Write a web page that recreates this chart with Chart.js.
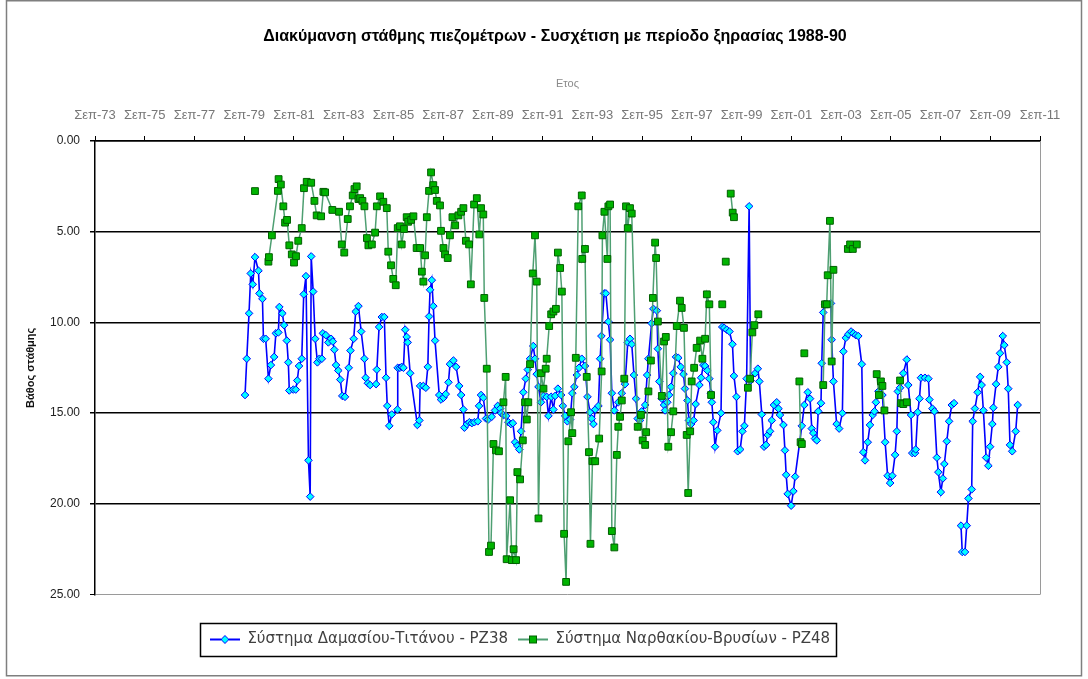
<!DOCTYPE html>
<html><head><meta charset="utf-8">
<script src="https://cdn.jsdelivr.net/npm/chart.js@4/dist/chart.umd.min.js"></script>
<style>html,body{margin:0;padding:0;background:#fff;}canvas{display:block;}</style>
</head><body>
<canvas id="c" width="1088" height="679"></canvas>
<script>
const chartTitle = 'Διακύμανση στάθμης πιεζομέτρων - Συσχέτιση με περίοδο ξηρασίας 1988-90';
const xAxisTitle = 'Ετος';
const yAxisTitle = 'Βάθος στάθμης';
const xTickYears = [1973,1975,1977,1979,1981,1983,1985,1987,1989,1991,1993,1995,1997,1999,2001,2003,2005,2007,2009,2011];
const xTickLabels = ['Σεπ-73','Σεπ-75','Σεπ-77','Σεπ-79','Σεπ-81','Σεπ-83','Σεπ-85','Σεπ-87','Σεπ-89','Σεπ-91','Σεπ-93','Σεπ-95','Σεπ-97','Σεπ-99','Σεπ-01','Σεπ-03','Σεπ-05','Σεπ-07','Σεπ-09','Σεπ-11'];
const yTickValues = [0,5,10,15,20,25];

const pz38Label = 'Σύστημα Δαμασίου-Τιτάνου - PZ38';
const pz38Time = [1979.70,1979.77,1979.86,1979.93,1980.01,1980.10,1980.24,1980.28,1980.40,1980.44,1980.53,1980.64,1980.74,1980.87,1980.94,1981.04,1981.08,1981.20,1981.27,1981.38,1981.44,1981.48,1981.64,1981.74,1981.80,1981.87,1981.98,1982.06,1982.15,1982.25,1982.32,1982.36,1982.44,1982.52,1982.61,1982.69,1982.79,1982.83,1982.95,1983.05,1983.16,1983.23,1983.29,1983.36,1983.45,1983.53,1983.61,1983.72,1983.87,1983.94,1984.07,1984.15,1984.26,1984.37,1984.50,1984.55,1984.64,1984.73,1984.97,1985.00,1985.09,1985.20,1985.30,1985.37,1985.42,1985.50,1985.60,1985.83,1985.84,1985.93,1986.00,1986.07,1986.14,1986.20,1986.24,1986.34,1986.63,1986.71,1986.74,1986.87,1986.97,1987.05,1987.10,1987.14,1987.21,1987.27,1987.34,1987.51,1987.58,1987.68,1987.77,1987.88,1987.94,1988.08,1988.19,1988.31,1988.39,1988.48,1988.52,1988.62,1988.72,1988.82,1988.92,1989.06,1989.11,1989.19,1989.28,1989.39,1989.48,1989.62,1989.75,1989.86,1989.96,1990.00,1990.09,1990.20,1990.29,1990.39,1990.47,1990.56,1990.65,1990.73,1990.80,1990.89,1990.99,1991.07,1991.16,1991.29,1991.36,1991.43,1991.50,1991.60,1991.70,1991.83,1991.90,1992.01,1992.10,1992.17,1992.28,1992.41,1992.48,1992.57,1992.66,1992.77,1992.86,1992.94,1993.04,1993.13,1993.24,1993.37,1993.47,1993.57,1993.64,1993.71,1993.78,1993.91,1993.98,1994.03,1994.14,1994.21,1994.31,1994.38,1994.45,1994.55,1994.71,1994.85,1994.98,1995.09,1995.18,1995.25,1995.34,1995.42,1995.49,1995.58,1995.65,1995.79,1995.87,1995.92,1996.05,1996.12,1996.26,1996.30,1996.36,1996.46,1996.55,1996.59,1996.68,1996.75,1996.83,1996.92,1997.03,1997.12,1997.22,1997.33,1997.39,1997.49,1997.55,1997.64,1997.74,1997.82,1997.97,1998.04,1998.13,1998.20,1998.29,1998.37,1998.43,1998.47,1998.53,1998.60,1998.69,1998.84,1998.89,1998.97,1999.07,1999.18,1999.30,1999.36,1999.46,1999.51,1999.61,1999.70,1999.78,1999.87,1999.97,2000.03,2000.21,2000.32,2000.38,2000.48,2000.57,2000.65,2000.72,2000.81,2000.88,2000.97,2001.08,2001.15,2001.21,2001.35,2001.41,2001.46,2001.52,2001.66,2001.75,2001.82,2002.09,2002.19,2002.33,2002.42,2002.49,2002.55,2002.62,2002.69,2002.75,2002.86,2002.89,2002.95,2003.02,2003.26,2003.29,2003.36,2003.49,2003.59,2003.72,2003.76,2003.86,2003.96,2004.07,2004.16,2004.26,2004.36,2004.50,2004.56,2004.63,2004.74,2004.83,2004.94,2005.01,2005.07,2005.17,2005.33,2005.44,2005.54,2005.64,2005.73,2005.84,2005.91,2005.95,2006.04,2006.17,2006.31,2006.37,2006.48,2006.53,2006.64,2006.67,2006.75,2006.82,2006.88,2007.04,2007.18,2007.22,2007.34,2007.42,2007.52,2007.58,2007.68,2007.76,2007.82,2007.92,2008.01,2008.12,2008.21,2008.35,2008.49,2008.54,2008.65,2008.72,2008.79,2008.92,2008.96,2009.05,2009.16,2009.26,2009.32,2009.39,2009.50,2009.59,2009.66,2009.75,2009.79,2009.90,2009.99,2010.06,2010.17,2010.23,2010.33,2010.39,2010.46,2010.55,2010.69,2010.77];
const pz38Depth = [14.0,12.0,9.5,7.3,7.9,6.4,7.15,8.4,8.7,10.9,10.9,13.1,12.35,11.9,10.6,10.55,9.15,9.5,10.15,11.0,12.2,13.75,13.7,13.7,13.2,12.4,12.0,8.45,7.45,17.6,19.6,6.36,8.3,10.9,12.2,12.0,12.0,10.6,10.7,11.1,10.9,11.05,11.5,12.35,12.65,13.15,14.05,14.1,12.5,11.55,10.9,9.4,9.1,10.5,12.0,13.05,13.35,13.45,13.4,12.6,10.25,9.7,9.7,13.05,14.6,15.7,15.07,14.8,12.5,12.5,12.45,12.5,10.4,10.8,11.1,12.8,15.65,15.4,13.5,13.5,13.6,12.45,9.67,8.2,7.67,9.1,11.0,14.0,14.25,14.15,13.95,13.3,12.3,12.1,12.45,13.5,14.0,14.8,15.8,15.6,15.5,15.55,15.5,15.45,14.6,14.0,14.15,15.3,15.35,15.2,14.85,14.6,14.75,15.0,15.1,15.15,15.5,15.6,15.55,16.6,16.8,17.0,16.0,13.85,13.1,12.6,12.0,11.3,12.0,12.85,13.55,14.4,14.05,14.1,15.15,14.1,14.8,14.05,13.65,14.0,14.6,15.15,15.45,15.35,13.9,13.55,12.9,12.5,12.0,12.4,14.1,14.95,15.3,15.6,14.8,14.6,12.0,10.75,8.4,8.4,9.96,10.95,13.9,14.85,14.4,13.9,13.4,11.1,10.9,11.2,12.9,14.2,15.3,15.4,14.9,14.55,12.9,12.0,10.05,9.25,9.35,11.45,13.25,14.2,14.55,14.85,14.4,14.0,13.55,12.8,11.9,11.95,12.45,12.85,13.65,14.3,15.4,15.6,15.4,14.5,13.45,13.05,12.35,12.4,12.65,13.1,13.9,14.4,15.5,16.85,15.95,15.0,10.25,10.3,10.4,10.5,11.2,12.95,14.1,17.1,17.0,16.0,15.7,13.1,3.6,13.2,12.8,12.55,13.25,15.07,16.85,16.75,16.2,16.0,15.4,14.55,14.4,14.75,15.1,15.65,17.05,18.4,19.45,20.1,19.3,18.5,15.7,14.55,13.85,14.2,15.85,16.1,16.4,16.5,14.9,14.45,12.25,9.45,9.0,8.95,10.95,13.25,15.6,15.85,15.0,11.6,10.85,10.65,10.5,10.6,10.7,10.75,12.3,17.15,17.6,16.6,15.65,15.1,14.9,14.4,13.8,14.0,16.6,18.45,18.85,18.45,17.3,16.0,13.8,13.6,12.8,12.05,13.45,15.1,17.2,17.2,17.0,14.95,14.2,13.05,13.05,13.1,14.25,14.75,14.9,17.45,18.25,19.35,18.6,17.8,16.55,15.45,14.55,14.45,null,21.2,22.65,22.65,21.2,19.7,19.2,15.45,14.75,13.85,13.0,13.45,14.85,17.45,17.9,16.85,15.6,14.7,13.4,12.45,11.7,10.75,11.25,12.2,13.65,16.75,17.1,16.0,14.55];

const pz48Label = 'Σύστημα Ναρθακίου-Βρυσίων - PZ48';
const pz48Time = [1980.10,1980.40,1980.64,1980.66,1980.78,1981.02,1981.05,1981.14,1981.24,1981.31,1981.39,1981.48,1981.58,1981.67,1981.75,1981.84,1981.98,1982.07,1982.18,1982.36,1982.49,1982.58,1982.76,1982.85,1982.92,1983.21,1983.48,1983.59,1983.69,1983.83,1983.92,1984.03,1984.10,1984.19,1984.26,1984.33,1984.42,1984.50,1984.60,1984.66,1984.80,1984.93,1985.00,1985.13,1985.26,1985.40,1985.46,1985.57,1985.66,1985.76,1985.84,1985.93,1986.00,1986.09,1986.20,1986.26,1986.38,1986.47,1986.60,1986.74,1986.81,1986.87,1986.94,1987.01,1987.10,1987.18,1987.27,1987.34,1987.41,1987.54,1987.58,1987.68,1987.74,1987.85,1987.94,1988.04,1988.15,1988.28,1988.39,1988.48,1988.58,1988.71,1988.78,1988.91,1989.02,1989.12,1989.19,1989.28,1989.32,1989.42,1989.51,1989.59,1989.69,1989.79,1989.91,1990.09,1990.18,1990.22,1990.36,1990.43,1990.50,1990.60,1990.65,1990.76,1990.87,1990.96,1991.03,1991.09,1991.16,1991.27,1991.36,1991.43,1991.50,1991.60,1991.70,1991.79,1991.83,1991.93,1992.01,1992.10,1992.20,1992.28,1992.37,1992.44,1992.53,1992.61,1992.70,1992.81,1992.86,1993.00,1993.10,1993.24,1993.26,1993.37,1993.44,1993.53,1993.59,1993.67,1993.78,1993.94,1994.04,1994.07,1994.15,1994.27,1994.31,1994.38,1994.45,1994.55,1994.65,1994.71,1994.78,1994.85,1994.95,1995.02,1995.09,1995.18,1995.25,1995.49,1995.62,1995.69,1995.79,1995.83,1995.92,1996.02,1996.10,1996.19,1996.23,1996.30,1996.46,1996.55,1996.62,1996.72,1996.83,1996.92,1997.06,1997.19,1997.26,1997.35,1997.46,1997.52,1997.60,1997.66,1997.76,1997.86,1998.00,1998.09,1998.20,1998.27,1998.37,1998.44,1998.60,1998.89,1998.96,1999.03,1999.13,1999.23,1999.31,1999.36,1999.60,1999.92,2000.01,2000.10,2000.18,2000.34,2001.00,2001.99,2002.04,2002.09,2002.14,2002.19,2002.50,2002.95,2003.02,2003.09,2003.13,2003.22,2003.29,2003.36,2003.60,2003.94,2004.03,2004.14,2004.30,2004.70,2005.10,2005.19,2005.27,2005.33,2005.41,2005.70,2006.04,2006.08,2006.17,2006.31];
const pz48Depth = [2.76,null,6.65,6.4,5.2,2.75,2.1,2.4,3.6,4.5,4.35,5.75,6.25,6.7,6.35,5.5,4.8,2.6,2.25,2.3,3.3,4.1,4.15,2.8,2.83,3.8,3.9,5.7,6.15,4.3,3.6,3.0,2.65,2.5,3.2,3.15,3.3,3.6,5.35,5.75,5.7,5.05,3.6,3.05,3.35,3.7,6.1,6.85,7.6,7.95,4.8,4.7,5.7,4.85,4.2,4.45,4.35,4.15,5.9,5.9,7.2,7.75,6.3,4.2,2.75,1.73,2.43,2.7,3.3,3.55,4.95,5.9,6.25,6.45,5.2,4.2,4.65,4.1,3.9,3.7,5.5,5.7,7.9,3.5,3.15,5.15,3.7,4.05,8.65,12.55,22.65,22.3,16.7,17.05,17.1,14.4,13.0,23.05,19.8,23.1,22.5,23.1,18.25,18.65,16.5,14.4,15.35,14.4,12.3,7.3,5.2,7.75,20.8,12.8,13.65,12.55,12.0,10.2,9.55,9.4,9.25,6.15,7.0,8.3,21.65,24.3,16.55,14.95,16.1,11.95,3.6,3.0,6.5,5.95,13.0,17.15,22.2,17.65,17.65,16.4,12.7,5.2,3.9,6.5,3.6,3.5,21.5,22.4,17.3,15.75,15.2,14.3,13.1,3.6,4.8,3.7,4.0,15.75,15.1,16.5,16.75,16.05,13.8,12.1,8.65,5.6,6.45,9.95,14.05,11.05,10.8,16.85,16.05,14.9,10.2,8.8,9.2,10.3,16.2,19.4,16.0,13.25,12.5,11.4,11.0,12.0,10.9,8.45,9.0,14.0,null,9.0,null,6.65,null,2.9,3.95,4.2,null,13.6,13.1,10.55,10.15,9.55,null,13.25,16.6,16.7,null,11.7,null,13.45,9.0,9.0,7.4,4.4,12.15,7.1,null,5.95,5.7,5.95,5.7,null,12.85,14.0,13.25,13.5,14.85,null,13.2,14.45,14.5,14.4];

const FONT = "'Liberation Sans', 'DejaVu Sans', Arial, sans-serif";
const LEGEND_FONT = "'DejaVu Sans', 'Liberation Sans', sans-serif";
const BLUE = '#0000FF', CYAN = '#00FFFF';
const GREEN_LINE = '#4E9F72', GREEN_FILL = '#00B400', GREEN_EDGE = '#006000';

function makeIcon(kind) {
  const c = document.createElement('canvas');
  c.width = 30; c.height = 12;
  const g = c.getContext('2d');
  g.lineWidth = 2;
  g.strokeStyle = kind === 'blue' ? BLUE : GREEN_LINE;
  g.beginPath(); g.moveTo(0, 6); g.lineTo(30, 6); g.stroke();
  g.lineWidth = 1;
  if (kind === 'blue') {
    g.fillStyle = CYAN; g.strokeStyle = BLUE;
    g.beginPath(); g.moveTo(15, 2); g.lineTo(19, 6); g.lineTo(15, 10); g.lineTo(11, 6); g.closePath();
    g.fill(); g.stroke();
  } else {
    g.fillStyle = GREEN_FILL; g.strokeStyle = GREEN_EDGE;
    g.fillRect(11.5, 2.5, 7, 7); g.strokeRect(11.5, 2.5, 7, 7);
  }
  return c;
}
const legendIcons = [makeIcon('green'), makeIcon('blue')];

const framePlugin = {
  id: 'frame',
  afterLayout(chart) {
    // centre the title over the whole drawing, as in the original
    if (chart.titleBlock) { chart.titleBlock.left = 22; chart.titleBlock.right = 1088; }
  },
  beforeDatasetsDraw(chart) {
    const {ctx, chartArea: a} = chart;
    ctx.save();
    ctx.strokeStyle = '#9a9a9a'; ctx.lineWidth = 1;
    ctx.beginPath(); ctx.moveTo(Math.round(a.right) + 0.5, a.top); ctx.lineTo(Math.round(a.right) + 0.5, a.bottom); ctx.stroke();
    ctx.restore();
  },
  afterDraw(chart) {
    const ctx = chart.ctx;
    ctx.save();
    ctx.strokeStyle = '#7f7f7f'; ctx.lineWidth = 1.5;
    ctx.strokeRect(6.5, 0.75, 1075, 675);
    const hb = chart.legend && chart.legend.legendHitBoxes;
    if (hb && hb.length) {
      let l = Infinity, r = -Infinity, t = Infinity, b = -Infinity;
      hb.forEach(h => { l = Math.min(l, h.left); r = Math.max(r, h.left + h.width); t = Math.min(t, h.top); b = Math.max(b, h.top + h.height); });
      ctx.strokeStyle = '#000'; ctx.lineWidth = 1.5;
      ctx.strokeRect(Math.round(l - 10) + 0.5, Math.round(t - 9) + 0.5, Math.round(r - l + 16), Math.round(b - t + 18));
    }
    ctx.restore();
  }
};

new Chart(document.getElementById('c'), {
  type: 'line',
  data: {
    datasets: [
      {
        label: pz48Label,
        data: pz48Time.map((t, i) => ({x: t, y: pz48Depth[i]})),
        borderColor: GREEN_LINE, borderWidth: 1.5, tension: 0, spanGaps: false,
        pointStyle: 'rect', pointRadius: 4.8, pointBackgroundColor: GREEN_FILL,
        pointBorderColor: GREEN_EDGE, pointBorderWidth: 1
      },
      {
        label: pz38Label,
        data: pz38Time.map((t, i) => ({x: t, y: pz38Depth[i]})),
        borderColor: BLUE, borderWidth: 1.6, tension: 0, spanGaps: false,
        pointStyle: 'rectRot', pointRadius: 3.8, pointBackgroundColor: CYAN,
        pointBorderColor: BLUE, pointBorderWidth: 1
      }
    ]
  },
  options: {
    responsive: false, animation: false, devicePixelRatio: 1,
    layout: {padding: {left: 0, right: 48, top: 0, bottom: 22}},
    plugins: {
      tooltip: {enabled: false},
      title: {
        display: true, text: chartTitle, color: '#000',
        font: {family: FONT, size: 16, weight: 'bold'},
        padding: {top: 27, bottom: 0}
      },
      legend: {
        display: true, position: 'bottom',
        title: {display: true, text: ' ', font: {family: FONT, size: 12}, padding: {top: 6, bottom: 7}},
        labels: {
          usePointStyle: true, pointStyleWidth: 30, padding: 10,
          color: '#404040', font: {family: LEGEND_FONT, size: 15},
          generateLabels: chart => chart.data.datasets.map((ds, i) => ({
            text: ds.label, pointStyle: legendIcons[i], datasetIndex: i, hidden: false,
            lineWidth: 0, strokeStyle: 'rgba(0,0,0,0)', fillStyle: 'rgba(0,0,0,0)', fontColor: '#404040'
          })),
          sort: (a, b) => b.datasetIndex - a.datasetIndex
        }
      }
    },
    scales: {
      x: {
        type: 'linear', position: 'top',
        min: xTickYears[0] + 8 / 12, max: xTickYears[xTickYears.length - 1] + 8 / 12,
        afterBuildTicks: s => { s.ticks = xTickYears.map(y => ({value: y + 8 / 12})); },
        afterFit: s => { s.height = 94.8; },
        ticks: {
          autoSkip: false, maxRotation: 0, padding: 13, color: '#777777',
          font: {family: FONT, size: 13},
          callback: (v, i) => xTickLabels[i]
        },
        grid: {drawOnChartArea: false, drawTicks: true, tickLength: 5, tickColor: '#000', lineWidth: 1},
        border: {display: true, color: '#000', width: 1.5},
        title: {display: true, text: xAxisTitle, color: '#8a8a8a', font: {family: FONT, size: 11}, padding: {top: 31, bottom: 0}}
      },
      y: {
        reverse: true, min: 0, max: 25,
        afterBuildTicks: s => { s.ticks = yTickValues.map(v => ({value: v})); },
        afterFit: s => { s.width = 95; },
        ticks: {padding: 10, color: '#222', font: {family: FONT, size: 12}, callback: v => Number(v).toFixed(2)},
        grid: {
          color: c => (c.tick && c.tick.value === 25) ? '#9a9a9a' : '#000',
          lineWidth: c => (c.tick && c.tick.value === 25) ? 1 : 1.5,
          drawTicks: true, tickLength: 5, tickColor: '#000'
        },
        border: {display: true, color: '#000', width: 1.5},
        title: {display: true, text: yAxisTitle, color: '#111', font: {family: FONT, size: 11, weight: 'bold'}, padding: {top: 24, bottom: 0}}
      }
    }
  },
  plugins: [framePlugin]
});
</script>
</body></html>
